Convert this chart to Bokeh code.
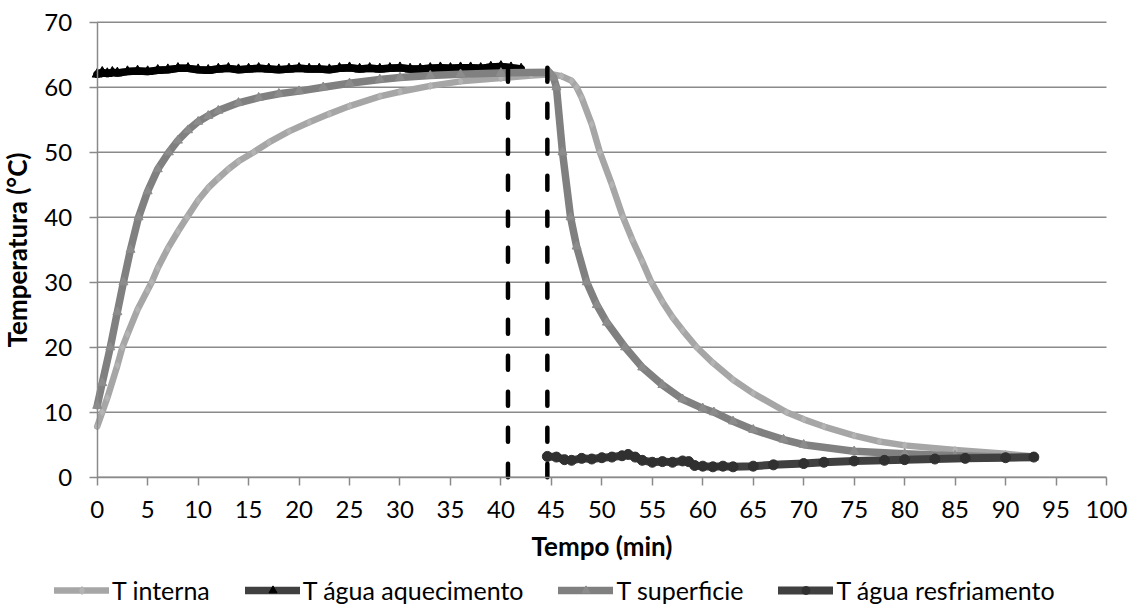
from bokeh.plotting import figure
from bokeh.models import Legend, LegendItem, FixedTicker, Range1d
from bokeh.embed import file_html
from bokeh.resources import INLINE

# ---------------- data ----------------
x_ticks = list(range(0, 101, 5))
y_ticks = list(range(0, 71, 10))

t_interna = [0, 0.5, 1, 2, 2.5, 3, 4, 5, 5.4, 6, 7, 8, 8.9, 10, 11, 12, 13, 14, 15.5, 17, 19, 21,
             23, 25, 28, 30, 33, 36, 40, 43, 45, 46, 47, 47.5, 48, 49, 49.8, 51, 52.1, 53, 54,
             54.9, 56, 57, 58, 59.4, 61, 63, 65, 68.3, 70, 72, 75, 77.5, 80, 85, 90, 92.8]
v_interna = [7.8, 10.0, 12.2, 17.2, 20.0, 22.0, 25.8, 28.8, 30.0, 32.2, 35.2, 37.8, 40.0, 42.6,
             44.5, 46.0, 47.4, 48.6, 50.0, 51.5, 53.2, 54.6, 55.9, 57.1, 58.6, 59.3, 60.2, 60.9,
             61.4, 61.8, 62.0, 61.7, 61.0, 60.0, 58.4, 54.3, 50.0, 45.0, 40.0, 36.6, 33.2, 30.0,
             27.0, 24.6, 22.6, 20.0, 17.6, 15.0, 12.9, 10.0, 8.9, 7.8, 6.4, 5.5, 4.9, 4.2, 3.6, 3.2]

t_aquec = [0, 0.5, 1, 1.5, 2, 3, 4, 5, 6, 7, 8, 9, 10, 11, 12, 13, 14, 15, 16, 17, 18, 19, 20,
           21, 22, 23, 24, 25, 26, 27, 28, 29, 30, 31, 32, 33, 34, 35, 36, 37, 38, 39, 40, 41, 42]
v_aquec = [62.0, 62.3, 62.1, 62.3, 62.2, 62.4, 62.5, 62.4, 62.6, 62.7, 62.9, 62.9, 62.7, 62.6,
           62.8, 62.9, 62.7, 62.8, 62.9, 62.8, 62.7, 62.8, 62.9, 62.8, 62.8, 62.7, 62.9, 63.0,
           62.8, 62.9, 62.8, 62.9, 63.0, 62.8, 62.8, 62.9, 63.0, 62.9, 63.0, 63.0, 62.9, 63.1,
           63.2, 63.0, 62.8]

t_superf = [0, 0.5, 1.3, 2, 2.6, 3.3, 4.1, 5, 6, 7.1, 8, 9, 10, 11, 12, 14, 16, 18, 20, 22.4, 25,
            28, 30, 33, 36, 40, 44.8, 45.2, 45.5, 46.1, 46.9, 47.5, 48.5, 49.5, 50.5, 52.3, 54,
            56, 58, 60, 61.1, 63, 65, 68, 70, 75, 80, 85, 90, 92.8]
v_superf = [11.0, 14.5, 20.0, 25.4, 30.0, 35.0, 40.0, 44.0, 47.4, 50.0, 51.8, 53.4, 54.7, 55.6,
            56.4, 57.6, 58.4, 59.0, 59.4, 60.0, 60.6, 61.2, 61.5, 61.8, 62.0, 62.2, 62.3, 61.5,
            60.0, 50.0, 40.0, 35.5, 30.0, 26.5, 23.8, 20.0, 16.9, 14.2, 12.0, 10.6, 10.0, 8.6,
            7.3, 5.8, 5.0, 4.0, 3.6, 3.3, 3.1, 3.0]

t_resfr = [44.6, 45.5, 46.3, 47, 48, 49, 50, 51, 52, 52.6, 53.3, 54, 55, 56, 57, 58, 58.6, 59.2,
           60, 61, 62, 63, 65, 67, 70, 72, 75, 78, 80, 83, 86, 90, 92.8]
v_resfr = [3.2, 3.1, 2.7, 2.6, 2.9, 2.8, 3.0, 3.1, 3.3, 3.5, 3.1, 2.6, 2.3, 2.4, 2.3, 2.5, 2.4,
           1.8, 1.7, 1.6, 1.7, 1.6, 1.7, 1.9, 2.1, 2.3, 2.5, 2.6, 2.7, 2.8, 2.9, 3.0, 3.1]

phase_marks = [40.7, 44.6]
phase_top = [63.0, 63.0]

series_names = ["T interna", "T água aquecimento", "T superficie", "T água resfriamento"]
line_colors = ["#a6a6a6", "#404040", "#808080", "#404040"]      # series line colour
trace_colors = ["#a6a6a6", "#000000", "#808080", "#404040"]     # how the dense trace looks
series_widths = [6.5, 7.5, 7.5, 8]
marker_types = ["diamond", "triangle", "triangle", "circle"]
marker_colors = ["#b4b4b4", "#000000", "#8c8c8c", "#303030"]
marker_sizes = [7, 10, 9, 10]

# ---------------- figure (frame covers the whole canvas) ----------------
FONT = "Lato"
p = figure(width=1138, height=606,
           x_range=Range1d(-9.58, 103.17), y_range=Range1d(-19.89, 73.34),
           output_backend="svg", toolbar_location=None, min_border=0,
           min_border_left=0, min_border_right=0, min_border_top=0, min_border_bottom=0)
p.outline_line_color = None
p.background_fill_color = "white"
p.border_fill_color = "white"
p.xgrid.grid_line_color = None
p.ygrid.grid_line_color = None

# horizontal grid lines at the y ticks, spanning the x axis extent
p.segment(x0=x_ticks[0], x1=x_ticks[-1], y0=y_ticks, y1=y_ticks,
          line_color="#8a8a8a", line_width=1.5)

p.xaxis.ticker = FixedTicker(ticks=x_ticks)
p.yaxis.ticker = FixedTicker(ticks=y_ticks)
p.xaxis.bounds = (x_ticks[0], x_ticks[-1])
p.yaxis.bounds = (y_ticks[0], y_ticks[-1])
p.xaxis.fixed_location = 0
p.yaxis.fixed_location = 0
for ax in (p.xaxis[0], p.yaxis[0]):
    ax.axis_line_color = "#8a8a8a"
    ax.axis_line_width = 1.5
    ax.major_tick_line_color = "#8a8a8a"
    ax.major_tick_line_width = 1.5
    ax.major_tick_in = 0
    ax.major_tick_out = 8
    ax.minor_tick_line_color = None
    ax.major_label_text_font = FONT
    ax.major_label_text_font_size = "24px"
    ax.major_label_text_color = "#000000"
    ax.axis_label_text_font = FONT
    ax.axis_label_text_font_size = "26px"
    ax.axis_label_text_font_style = "bold"
    ax.axis_label_text_color = "#000000"

p.xaxis.axis_label = "Tempo (min)"
p.yaxis.axis_label = "Temperatura (°C)"
p.xaxis.major_label_standoff = 16
p.yaxis.major_label_standoff = 17
p.xaxis.axis_label_standoff = 8
p.yaxis.axis_label_standoff = 9

# ---------------- series ----------------
series_x = [t_interna, t_aquec, t_superf, t_resfr]
series_y = [v_interna, v_aquec, v_superf, v_resfr]
items = []
for name, xs, ys, lc, tc, w, mk, mc, ms in zip(series_names, series_x, series_y, line_colors,
                                               trace_colors, series_widths, marker_types,
                                               marker_colors, marker_sizes):
    lr = p.line(xs, ys, line_color=lc, line_width=w, line_join="round", line_cap="round")
    if tc != lc:
        # dense markers make this trace look solid black in the reference
        p.line(xs, ys, line_color=tc, line_width=w, line_join="round", line_cap="round")
    sr = p.scatter(xs, ys, marker=mk, size=ms, fill_color=mc, line_color=mc)
    items.append(LegendItem(label=name, renderers=[lr, sr]))

p.segment(x0=phase_marks, y0=phase_top, x1=phase_marks, y1=[0, 0],
          line_color="#000000", line_width=4.5, line_dash="14 22", line_cap="round")

legend = Legend(items=items, orientation="horizontal", location=(54, 1),
                glyph_width=55, glyph_height=20, label_standoff=3, spacing=35,
                padding=0, margin=0, border_line_color=None, background_fill_alpha=0,
                label_text_font=FONT, label_text_font_size="25px", label_text_color="#000000")
p.add_layout(legend)

open("out.html", "w").write(file_html(p, INLINE))
